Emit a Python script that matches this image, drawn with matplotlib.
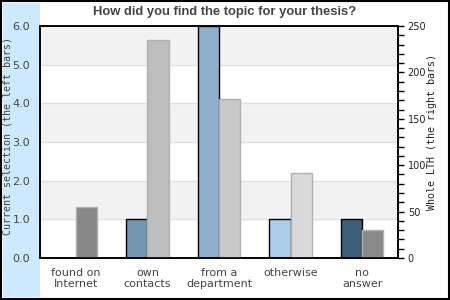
import matplotlib
matplotlib.use("Agg")
import matplotlib.pyplot as plt
import numpy as np
from matplotlib.patches import Rectangle
from matplotlib.ticker import MultipleLocator

# data
categories = ["found on\nInternet", "own\ncontacts", "from a\ndepartment", "otherwise", "no\nanswer"]
current_sel = [0.0, 1.0, 6.0, 1.0, 1.0]        # left axis
whole_lth = [55, 235, 171, 92, 30]               # right axis
left_colors = ["#7396b2", "#7396b2", "#8fb0cc", "#abcde8", "#3e5f7b"]
right_colors = ["#888888", "#bdbdbd", "#c8c8c8", "#d9d9d9", "#8a8a8a"]

TXT = "#444444"

fig = plt.figure(figsize=(4.5, 3.0), dpi=100)
W, H = 450, 300

# light blue strip on the left and the outer frame (behind the axes)
fig.patches.append(Rectangle((3 / W, 3 / H), 37 / W, 294 / H, transform=fig.transFigure,
                             facecolor="#cce9ff", edgecolor="none", zorder=-2))
fig.patches.append(Rectangle((0.5 / W, 1 / H), 448.5 / W, 298 / H, transform=fig.transFigure,
                             facecolor="none", edgecolor="black", lw=1.5, zorder=-1))

ax = fig.add_axes([40 / W, 42 / H, 358 / W, 232 / H])
ax.set_facecolor("white")
x = np.arange(len(categories))
w = 0.295

for lo in (1, 3, 5):
    ax.axhspan(lo, lo + 1, color="#f2f2f2", zorder=0, lw=0)
for g in range(1, 6):
    ax.axhline(g, color="#e0e0e0", lw=1, zorder=0.5)

ax.bar(x - w / 2, current_sel, w, color=left_colors, edgecolor="black", lw=1, zorder=2)
ax.set_xlim(-0.5, len(categories) - 0.5)
ax.set_ylim(0, 6)
ax.set_yticks(range(0, 7))
ax.set_yticklabels([f"{v:.1f}" for v in range(0, 7)], fontsize=8, color=TXT)
ax.tick_params(axis="y", length=0, pad=7)
ax.set_xticks(x)
ax.set_xticklabels(categories, fontsize=8, color=TXT, linespacing=1.15)
ax.tick_params(axis="x", length=0, pad=7)
for s in ax.spines.values():
    s.set_color("black")
    s.set_linewidth(1.2)

ax2 = ax.twinx()
ax2.bar(x + w / 2, whole_lth, w, color=right_colors, edgecolor="#b0b0b0", lw=1, zorder=2)
ax2.set_ylim(0, 250)
ax2.yaxis.set_major_locator(MultipleLocator(50))
ax2.yaxis.set_minor_locator(MultipleLocator(10))
ax2.tick_params(axis="y", which="both", direction="out", length=4, width=1,
                color="black", labelsize=7, labelcolor="#222222", pad=3)
for s in ax2.spines.values():
    s.set_color("black")
    s.set_linewidth(1.2)

fig.text(8 / W, (H - 136) / H, "Current selection (the left bars)", rotation=90,
         family="DejaVu Sans Mono", fontsize=7.2, color=TXT, ha="center", va="center")
fig.text(432 / W, (H - 132) / H, "Whole LTH (the right bars)", rotation=90,
         family="DejaVu Sans Mono", fontsize=7.2, color="#222222", ha="center", va="center")
fig.text(0.5, 1 - 12 / H, "How did you find the topic for your thesis?",
         family="Liberation Sans", weight="bold", fontsize=9.4, color=TXT,
         ha="center", va="center")

fig.savefig("out.png", dpi=100)
